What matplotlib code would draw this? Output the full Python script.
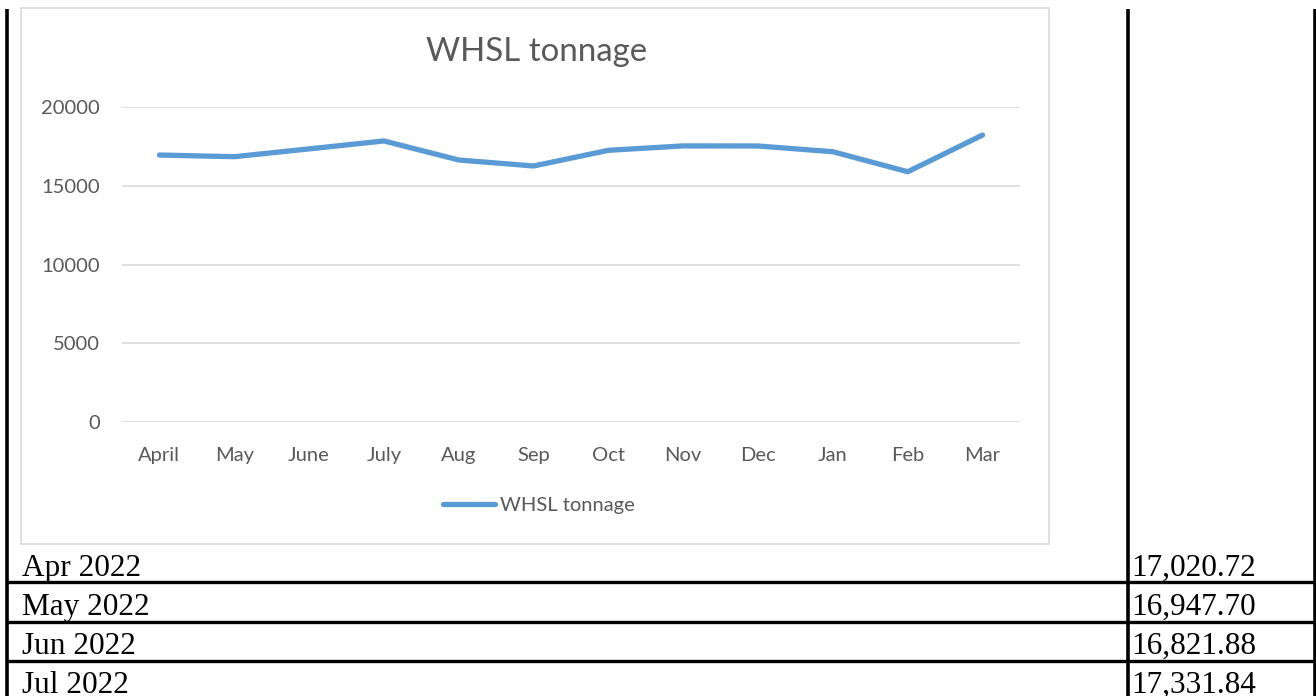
import matplotlib
matplotlib.use("Agg")
import matplotlib.pyplot as plt
from matplotlib.patches import Rectangle

# chart data
months = ["April", "May", "June", "July", "Aug", "Sep", "Oct", "Nov", "Dec", "Jan", "Feb", "Mar"]
tonnage = [16950, 16845, 17340, 17845, 16635, 16255, 17250, 17530, 17525, 17160, 15890, 18220]
y_ticks = [0, 5000, 10000, 15000, 20000]

# table rows below the chart
row_labels = ["Apr 2022", "May 2022", "Jun 2022", "Jul 2022"]
row_values = ["17,020.72", "16,947.70", "16,821.88", "17,331.84"]

W, H = 1316, 696
BLUE = "#5B9BD5"
GREY_TXT = "#595959"
GRID = "#D9D9D9"

fig = plt.figure(figsize=(W / 100, H / 100), dpi=100)

# background axes in pixel coordinates for the document table
bg = fig.add_axes([0, 0, 1, 1])
bg.set_xlim(0, W)
bg.set_ylim(H, 0)
bg.axis("off")

# chart frame
bg.add_patch(Rectangle((21, 8), 1028, 536, fill=False, edgecolor=GRID, linewidth=1.2))

# table borders
bg.plot([7, 7], [9, H], color="black", lw=2.6, solid_capstyle="butt")
bg.plot([1128, 1128], [9, H], color="black", lw=2.6, solid_capstyle="butt")
bg.plot([1314.5, 1314.5], [9, H], color="black", lw=2.6, solid_capstyle="butt")
for yl in [582, 622, 661]:
    bg.plot([7, W], [yl, yl], color="black", lw=2.4, solid_capstyle="butt")

# last row is clipped by the screenshot edge, as in the original
row_base = [576, 615, 654, 693]
for lab, val, yb in zip(row_labels, row_values, row_base):
    bg.text(22, yb, lab, family="Liberation Serif", fontsize=22.5, color="black",
            ha="left", va="baseline")
    bg.text(1131, yb, val, family="Liberation Serif", fontsize=22.5, color="black",
            ha="left", va="baseline")

# the line chart
ax = fig.add_axes([122 / W, (H - 422) / H, 898 / W, 315 / H])
x = list(range(len(months)))
line, = ax.plot(x, tonnage, color=BLUE, lw=3.8, solid_capstyle="round",
                solid_joinstyle="round", label="WHSL tonnage")
ax.set_xlim(-0.5, len(months) - 0.5)
ax.set_ylim(0, 20000)
ax.set_yticks(y_ticks)
ax.set_yticklabels([str(v) for v in y_ticks])
ax.set_xticks(x)
ax.set_xticklabels(months)
for s in ax.spines.values():
    s.set_visible(False)
ax.grid(axis="y", color=GRID, lw=1.2)
ax.set_axisbelow(True)
ax.tick_params(axis="both", length=0, labelcolor=GREY_TXT, labelsize=14.5)
ax.tick_params(axis="y", pad=16)
ax.tick_params(axis="x", pad=18)
for t in ax.get_xticklabels() + ax.get_yticklabels():
    t.set_family("Lato")
ax.patch.set_alpha(0)

fig.text(537 / W, 1 - 52 / H, "WHSL tonnage", family="Lato", fontsize=23.8,
         color=GREY_TXT, ha="center", va="center")

leg = fig.legend(handles=[line], loc="center", bbox_to_anchor=(539 / W, 1 - 505 / H),
                 frameon=False, handlelength=2.6, handletextpad=0.25,
                 prop={"family": "Lato", "size": 14.5})
for t in leg.get_texts():
    t.set_color(GREY_TXT)

fig.savefig("out.png", dpi=100)
